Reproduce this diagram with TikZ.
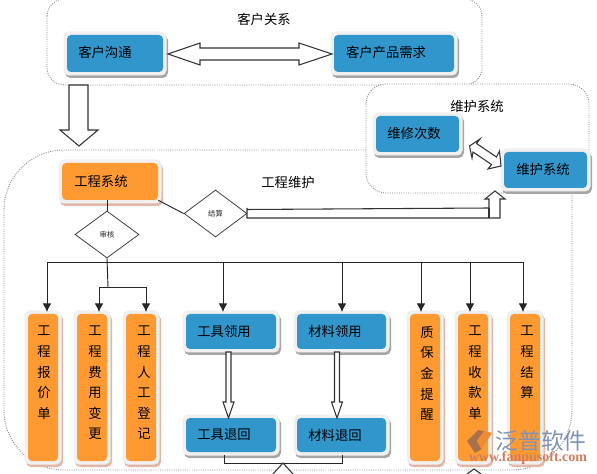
\documentclass[tikz,border=0pt]{standalone}
\usepackage{fontspec}
\setmainfont{Noto Sans CJK SC}
\newfontfamily\wmfont{Liberation Serif}
\usetikzlibrary{arrows.meta,shapes.geometric}
\definecolor{bluebox}{HTML}{3196CB}
\definecolor{orangebox}{HTML}{FF9A33}
\definecolor{blueshadow}{HTML}{A6A6A6}
\definecolor{orangeshadow}{HTML}{E3B5A5}
\definecolor{wmblue}{HTML}{7F93B8}
\definecolor{wmred}{HTML}{CC7F60}
\definecolor{wmgray}{HTML}{A8714A}
\definecolor{wmorange}{HTML}{F08A35}
\tikzset{
 x=0.75pt,y=-0.75pt,
 frame/.style={draw=black!45,densely dotted,line width=0.7pt,rounded corners=#1},
 lbl/.style={font=\fontsize{10pt}{11pt}\selectfont,inner sep=0pt,text=black},
 small/.style={font=\fontsize{5.5pt}{6pt}\selectfont,inner sep=0pt,text=black!85},
 vert/.style={font=\fontsize{10pt}{15.4pt}\selectfont,inner sep=0pt,text=black,align=center,anchor=north},
 conn/.style={draw=black!85,line width=0.7pt},
 arr/.style={conn,-{Latex[length=6.5pt,width=6.5pt]}},
 block/.style={draw=black!80,fill=white,line width=0.8pt,line join=miter},
 dia/.style={shape=diamond,draw=black!75,fill=white,line width=0.6pt,inner sep=0pt},
}
\newcommand{\bx}[7]{% name, x0,y0,x1,y1, fill, shadow
 \fill[#7,rounded corners=4pt] (#2-2,#3) rectangle (#4+5,#5+6);
 \fill[black!6,rounded corners=4pt] (#2-3.5,#3-3.5) rectangle (#4+3.5,#5+3.5);
 \node[fill=#6,rounded corners=3pt,inner sep=0pt,minimum width={(#4-#2)*0.75pt},minimum height={(#5-#3)*0.75pt}] (#1) at ({(#2+#4)/2},{(#3+#5)/2}) {};
}
\begin{document}
\begin{tikzpicture}
\useasboundingbox (0,0) rectangle (597,474);
\fill[white] (0,0) rectangle (597,474);
% frames
\draw[frame=45pt] (366,150) -- (4,150) -- (4,470) -- (572,470) -- (572,190);
\draw[frame=13pt] (47,-1) rectangle (482,85);
\fill[white,rounded corners=15pt] (366,84) rectangle (589,193);
\draw[frame=15pt] (366,84) rectangle (589,193);
\node[lbl] (tkh) at (264,19) {客户关系};
\node[lbl] (tgw) at (288,182) {工程维护};
\node[lbl] (twh) at (477,106) {维护系统};
% boxes
\bx{a}{67}{35}{163}{72}{bluebox}{blueshadow}
\bx{b}{334}{35}{454}{72}{bluebox}{blueshadow}
\bx{c}{376}{116}{459}{152}{bluebox}{blueshadow}
\bx{d}{504}{152}{587}{188}{bluebox}{blueshadow}
\bx{e}{62}{163}{158}{200}{orangebox}{orangeshadow}
\bx{f}{186}{314}{276}{349}{bluebox}{blueshadow}
\bx{g}{186}{418}{276}{452}{bluebox}{blueshadow}
\bx{h}{297}{314}{386}{349}{bluebox}{blueshadow}
\bx{i}{297}{418}{386}{452}{bluebox}{blueshadow}
\bx{oa}{28}{314}{58}{461}{orangebox}{orangeshadow}
\bx{ob}{77}{314}{107}{461}{orangebox}{orangeshadow}
\bx{oc}{126}{314}{156}{461}{orangebox}{orangeshadow}
\bx{od}{410}{314}{440}{461}{orangebox}{orangeshadow}
\bx{oe}{458}{314}{488}{461}{orangebox}{orangeshadow}
\bx{of}{510}{314}{540}{461}{orangebox}{orangeshadow}
\node[lbl] (la) at (105,52) {客户沟通};
\node[lbl] (lb) at (386,52) {客户产品需求};
\node[lbl] (lc) at (414,133) {维修次数};
\node[lbl] (ld) at (543,169) {维护系统};
\node[lbl] (le) at (101,181) {工程系统};
\node[lbl] (lf) at (224,331) {工具领用};
\node[lbl] (lg) at (224,435) {工具退回};
\node[lbl] (lh) at (335,331) {材料领用};
\node[lbl] (li) at (335,435) {材料退回};
\node[vert] (va) at (44,326) {工\\程\\报\\价\\单};
\node[vert] (vb) at (95,326) {工\\程\\费\\用\\变\\更};
\node[vert] (vc) at (144,326) {工\\程\\人\\工\\登\\记};
\node[vert] (vd) at (427,326) {质\\保\\金\\提\\醒};
\node[vert] (ve) at (475,326) {工\\程\\收\\款\\单};
\node[vert] (vf) at (527,326) {工\\程\\结\\算};
% diamonds
\node[dia,small,minimum width=47.25pt,minimum height=35.25pt] (jsd) at (215.5,213.5) {结算};
\node[dia,small,minimum width=48pt,minimum height=35.25pt] (shd) at (107,234.5) {审核};
% block arrows
\draw[block] (168,54) -- (200,43) -- (200,48) -- (299,48) -- (299,43) -- (332,54) -- (299,65) -- (299,60) -- (200,60) -- (200,65) -- cycle;
\draw[block] (69,85) -- (69,130) -- (60,130) -- (79,146) -- (98,130) -- (88,130) -- (88,85) -- cycle;
\draw[block] (jsd.east) ++(0,-4) -- (489,208) -- (489,199) -- (485,199) -- (495,191) -- (505,199) -- (500,199) -- (500,218) -- (247,218) -- (247,208);
\draw[block] (489,208) -- (489,218);
\draw[block] (469.5,146) -- (480,139) -- (476.5,143.5) -- (496.5,157) -- (499.5,151) -- (501,166) -- (488,169) -- (491.5,164.5) -- (473,152) -- (472,158) -- cycle;
\draw[block] (226,352) -- (231,352) -- (231,402) -- (234,402) -- (228.5,418) -- (223,402) -- (226,402) -- cycle;
\draw[block] (334.5,352) -- (339.5,352) -- (339.5,402) -- (342.5,402) -- (337,418) -- (331.5,402) -- (334.5,402) -- cycle;
% connectors
\coordinate (busl) at (47,262.5);
\coordinate (busr) at (523,262.5);
\coordinate (sub) at (108,287);
\draw[conn] (e.south east) -- (jsd.west);
\draw[conn] (e.south -| shd) -- (shd.north);
\draw[conn] (busl) -- (busr);
\draw[conn] (shd.south) -- (sub);
\draw[conn] (99,287) -- (146,287);
\draw[arr] (99,287) -- (99,312);
\draw[arr] (146,287) -- (146,312);
\foreach \xx in {47,223,342,421,470,523}{\draw[arr] (\xx,262.5) -- (\xx,312);}
\draw[conn] (224,455) -- (224,463) -- (342,463) -- (342,455);
\draw[block] (273,474) -- (283,463) -- (293,474);
\draw[block] (467,474) -- (474,469) -- (481,474);
% watermark
\fill[wmgray] (478,430) -- (467,441) -- (475,453) -- (482,449) -- (477,441) -- (484,431) -- cycle;
\fill[wmorange] (484,431) -- (492,433) -- (487,441) -- (481,449) -- (477,441) -- cycle;
\node[font=\fontsize{17pt}{18pt}\selectfont,inner sep=0pt,text=wmblue] (wma) at (541,441) {泛普软件};
\node[font=\wmfont\fontsize{10.5pt}{11pt}\selectfont\bfseries,inner sep=0pt,text=wmred] (wmb) at (528,458) {www.fanpusoft.com};
\end{tikzpicture}
\end{document}
